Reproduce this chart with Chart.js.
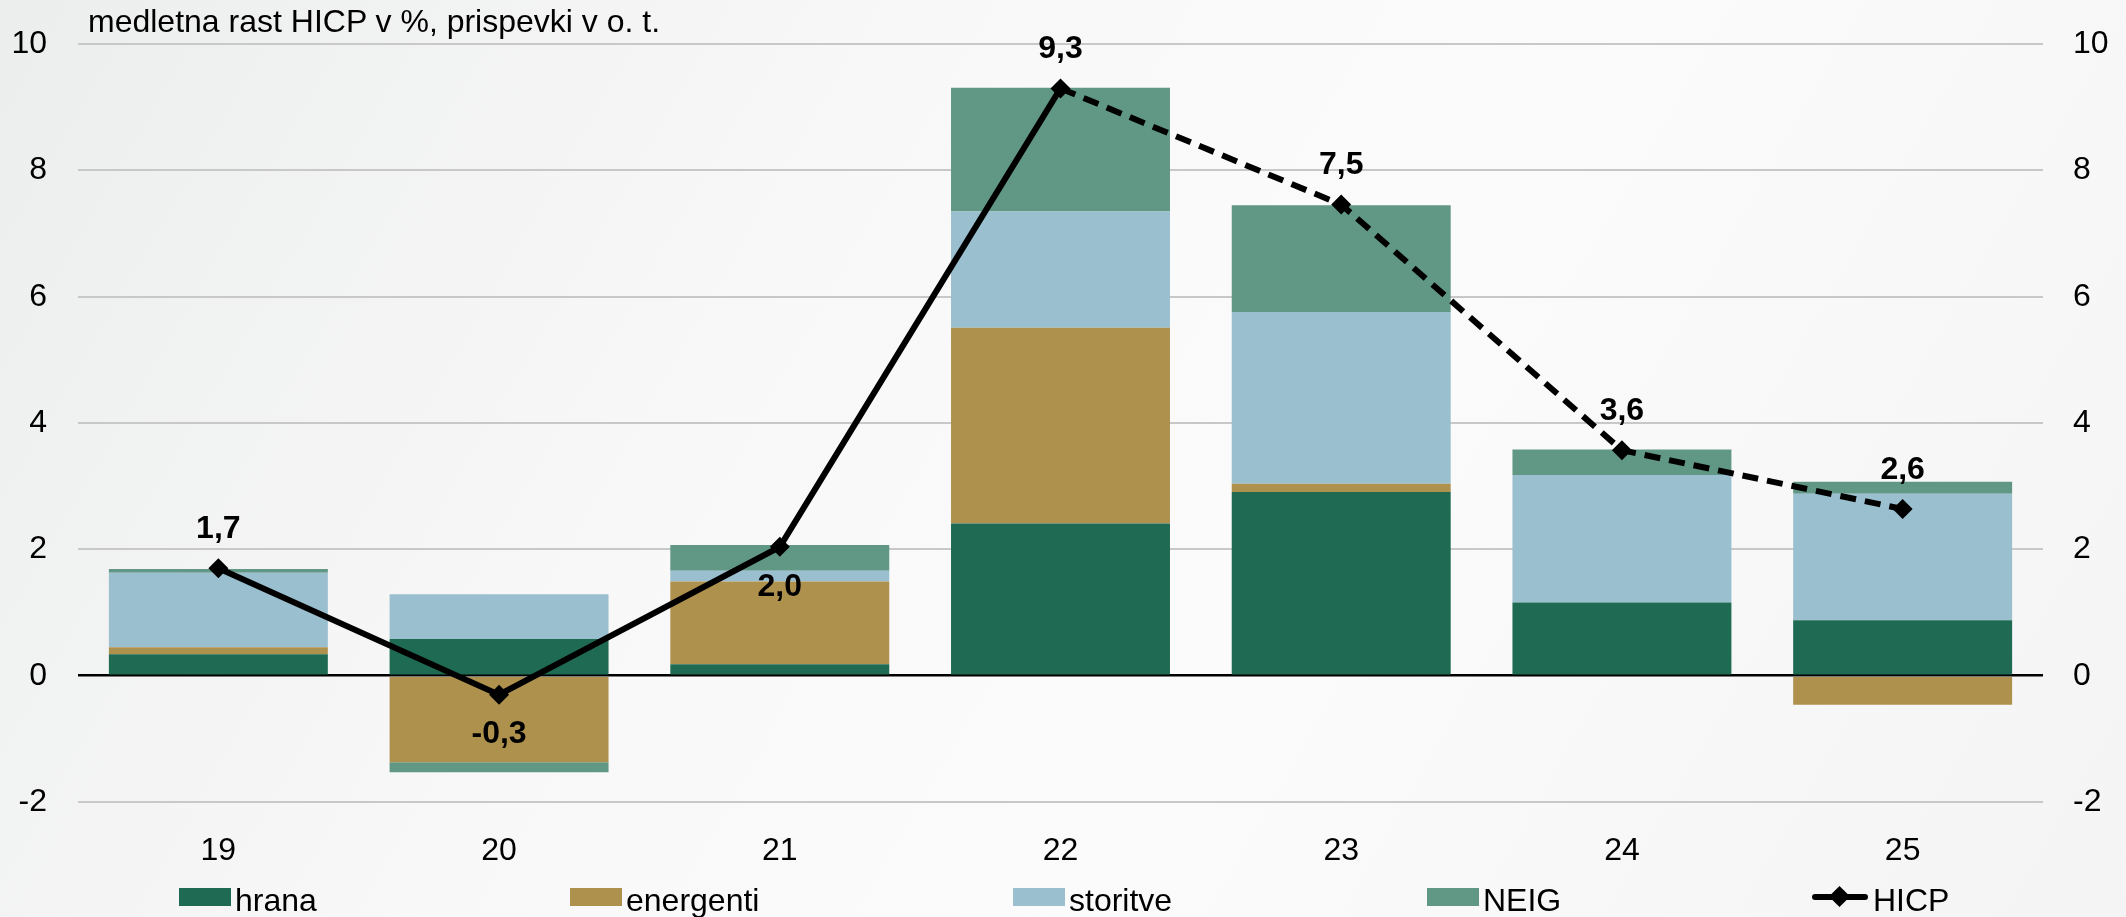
<!DOCTYPE html>
<html>
<head>
<meta charset="utf-8">
<script src="https://cdn.jsdelivr.net/npm/chart.js@4.4.1/dist/chart.umd.min.js"></script>
<style>
  body { margin: 0; }
  #wrap {
    position: relative;
    width: 2126px;
    height: 917px;
    overflow: hidden;
    background: linear-gradient(120deg, #eceeed 0%, #f7f8f7 35%, #fbfbfb 60%, #f3f4f3 100%);
    font-family: "Liberation Sans", Arial, sans-serif;
    color: #000;
  }
  /* canvas shifted up a bit so the plot top lands at y=44 */
  #chart { position: absolute; left: 0; top: -6px; }
  #title {
    position: absolute; left: 88px; top: 5px;
    font-size: 32px; line-height: 32px; white-space: nowrap;
  }
  .leg {
    position: absolute; top: 884px; height: 32px;
    font-size: 32px; line-height: 32px; white-space: nowrap;
    display: flex; align-items: flex-start;
  }
  .sw { width: 52px; height: 18px; margin-top: 4px; margin-right: 4px; }
  .ln { position: relative; width: 56px; height: 26px; margin-right: 5px; }
  .ln .bar { position: absolute; left: 0; top: 10px; width: 56px; height: 6px; background: #000; border-radius: 3px; }
  .ln .dia { position: absolute; left: 20px; top: 5px; width: 15px; height: 15px; background: #000; transform: rotate(45deg); }
</style>
</head>
<body>
<div id="wrap">
  <canvas id="chart" width="2126" height="923"></canvas>
  <div id="title">medletna rast HICP v %, prispevki v o. t.</div>
  <div id="legend"></div>
</div>
<script>
// Chart data
const categories = ['19', '20', '21', '22', '23', '24', '25'];
const hrana     = [0.34,  0.58, 0.18, 2.41, 2.91, 1.16,  0.88];
const energenti = [0.11, -1.37, 1.31, 3.10, 0.13, 0.00, -0.46];
const storitve  = [1.18,  0.71, 0.17, 1.84, 2.72, 2.02,  2.00];
const neig      = [0.06, -0.16, 0.41, 1.96, 1.69, 0.40,  0.19];
const hicp      = [1.7,  -0.3,  2.04, 9.3,  7.46, 3.57,  2.64];
const yTicks    = [-2, 0, 2, 4, 6, 8, 10];

// label above or below the HICP point
const labelBelow = [false, true, true, false, false, false, false];

const colors = {
    hrana: '#1f6a52',
    energenti: '#af914e',
    storitve: '#9abfcf',
    neig: '#619785'
};

const FONT = '"Liberation Sans", Arial, sans-serif';

// HICP value labels
const hicpLabels = {
    id: 'hicpLabels',
    afterDatasetsDraw(chart) {
        const meta = chart.getDatasetMeta(4);
        const ctx = chart.ctx;
        ctx.save();
        ctx.font = 'bold 32px ' + FONT;
        ctx.fillStyle = '#000';
        ctx.textAlign = 'center';
        ctx.textBaseline = 'middle';
        meta.data.forEach((pt, i) => {
            const txt = hicp[i].toFixed(1).replace('.', ',');
            const dy = labelBelow[i] ? 40 : -39;
            ctx.fillText(txt, pt.x, pt.y + dy);
        });
        ctx.restore();
    }
};

function barSet(label, data, color) {
    return {
        type: 'bar',
        label: label,
        data: data,
        backgroundColor: color,
        borderWidth: 0,
        stack: 'bars',
        barPercentage: 0.78,
        categoryPercentage: 1.0,
        order: 2
    };
}

const yTickOpts = {
    font: { family: FONT, size: 32 },
    color: '#000',
    stepSize: 2
};

const chart = new Chart(document.getElementById('chart'), {
    data: {
        labels: categories,
        datasets: [
            barSet('hrana', hrana, colors.hrana),
            barSet('energenti', energenti, colors.energenti),
            barSet('storitve', storitve, colors.storitve),
            barSet('NEIG', neig, colors.neig),
            {
                type: 'line',
                label: 'HICP',
                data: hicp,
                stack: 'hicp',
                borderColor: '#000',
                backgroundColor: '#000',
                borderWidth: 6,
                pointStyle: 'rectRot',
                pointRadius: 10,
                pointBorderWidth: 0,
                tension: 0,
                order: 1,
                clip: false,
                segment: {
                    borderDash: ctx => ctx.p0DataIndex >= 3 ? [16, 9] : []
                }
            }
        ]
    },
    options: {
        responsive: false,
        devicePixelRatio: 1,
        animation: false,
        layout: { autoPadding: false, padding: 0 },
        plugins: {
            legend: { display: false },
            tooltip: { enabled: false }
        },
        scales: {
            x: {
                stacked: true,
                offset: true,
                grid: { display: false },
                border: { display: false },
                ticks: { font: { family: FONT, size: 32 }, color: '#000', padding: 22 },
                afterFit: s => { s.height = 115; }
            },
            y: {
                position: 'left',
                stacked: true,
                min: -2,
                max: 10,
                afterBuildTicks: s => { s.ticks = yTicks.map(v => ({ value: v })); },
                grid: {
                    drawTicks: false,
                    color: c => c.tick.value === 0 ? '#000' : '#c8c8c8',
                    lineWidth: c => c.tick.value === 0 ? 2.5 : 2
                },
                border: { display: false },
                ticks: Object.assign({ padding: 31 }, yTickOpts),
                afterFit: s => { s.width = 78; }
            },
            y2: {
                position: 'right',
                min: -2,
                max: 10,
                afterBuildTicks: s => { s.ticks = yTicks.map(v => ({ value: v })); },
                grid: { display: false, drawTicks: false },
                border: { display: false },
                ticks: Object.assign({ padding: 30 }, yTickOpts),
                afterFit: s => { s.width = 83; }
            }
        }
    },
    plugins: [hicpLabels]
});

// Legend
const legendItems = [
    { label: 'hrana', color: colors.hrana, left: 179 },
    { label: 'energenti', color: colors.energenti, left: 570 },
    { label: 'storitve', color: colors.storitve, left: 1013 },
    { label: 'NEIG', color: colors.neig, left: 1427 },
    { label: 'HICP', line: true, left: 1812 }
];
const legendEl = document.getElementById('legend');
legendItems.forEach(item => {
    const div = document.createElement('div');
    div.className = 'leg';
    div.style.left = item.left + 'px';
    if (item.line) {
        div.innerHTML = '<span class="ln"><span class="bar"></span><span class="dia"></span></span>';
    } else {
        div.innerHTML = '<span class="sw" style="background:' + item.color + '"></span>';
    }
    div.appendChild(document.createTextNode(item.label));
    legendEl.appendChild(div);
});
</script>
</body>
</html>
